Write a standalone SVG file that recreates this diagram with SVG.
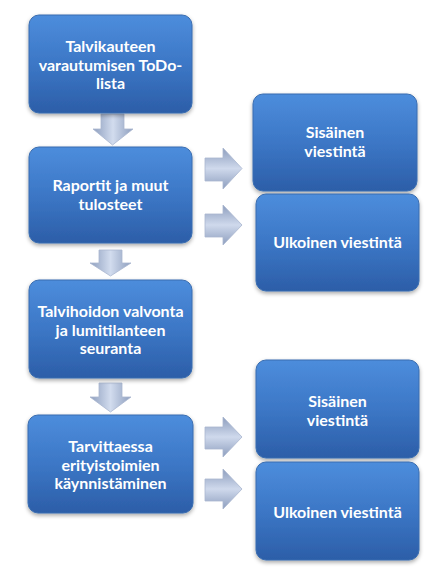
<svg xmlns="http://www.w3.org/2000/svg" width="435" height="570" viewBox="0 0 435 570">
<defs>
<linearGradient id="boxg" x1="0" y1="0" x2="0" y2="1">
<stop offset="0" stop-color="#4d8ddc"/>
<stop offset="0.5" stop-color="#3c77c6"/>
<stop offset="1" stop-color="#2c5ea8"/>
</linearGradient>
<linearGradient id="arrv" x1="0" y1="0" x2="1" y2="0">
<stop offset="0" stop-color="#8d9ebe"/>
<stop offset="0.5" stop-color="#d2dcee"/>
<stop offset="1" stop-color="#8d9ebe"/>
</linearGradient>
<linearGradient id="arrh" x1="0" y1="0" x2="0" y2="1">
<stop offset="0" stop-color="#8d9ebe"/>
<stop offset="0.5" stop-color="#cfd9ec"/>
<stop offset="1" stop-color="#8d9ebe"/>
</linearGradient>
<filter id="sh" x="-10%" y="-10%" width="120%" height="130%">
<feGaussianBlur in="SourceAlpha" stdDeviation="2"/>
<feOffset dx="0" dy="2" result="b"/>
<feComponentTransfer><feFuncA type="linear" slope="0.35"/></feComponentTransfer>
<feMerge><feMergeNode/><feMergeNode in="SourceGraphic"/></feMerge>
</filter>
</defs>
<style>
.box{fill:url(#boxg);stroke:#3a6db0;stroke-width:1;filter:url(#sh)}
.t{font-family:Lato,"Open Sans","Liberation Sans",sans-serif;font-weight:bold;font-size:16px;fill:#ffffff;text-anchor:middle}
.av{fill:url(#arrv);stroke:#a9b6cf;stroke-width:0.8}
.ah{fill:url(#arrh);stroke:#a9b6cf;stroke-width:0.8}
</style>
<g id="connectors">
<path class="av" d="M101,114 H124 V129 H133 L112.5,145 L93,129 H101 Z"/>
<path class="av" d="M99,250 H122 V263 H131 L110.5,276 L90,263 H99 Z"/>
<path class="av" d="M99,383 H122 V397 H131 L110.5,412 L90,397 H99 Z"/>
<path class="ah" d="M205,158 H223 V148 L242,168.5 L223,189 V181 H205 Z"/>
<path class="ah" d="M205,214 H223 V205 L242,225 L223,245 V237 H205 Z"/>
<path class="ah" d="M205,427 H223 V417 L242,437 L223,457 V449 H205 Z"/>
<path class="ah" d="M205,479 H223 V469 L242,489 L223,509 V501 H205 Z"/>
</g>
<g id="n1"><rect class="box" x="29" y="15" width="163" height="98" rx="10"/>
<text class="t" x="110.5" y="52">Talvikauteen</text>
<text class="t" x="110.5" y="70.5">varautumisen ToDo-</text>
<text class="t" x="110.5" y="89">lista</text></g>
<g id="n2"><rect class="box" x="29" y="147" width="163" height="96" rx="10"/>
<text class="t" x="110.5" y="191">Raportit ja muut</text>
<text class="t" x="110.5" y="209.5">tulosteet</text></g>
<g id="n3"><rect class="box" x="29" y="280" width="163" height="98" rx="10"/>
<text class="t" x="110.5" y="317">Talvihoidon valvonta</text>
<text class="t" x="110.5" y="335.5">ja lumitilanteen</text>
<text class="t" x="110.5" y="354">seuranta</text></g>
<g id="n4"><rect class="box" x="28" y="415" width="165" height="98" rx="10"/>
<text class="t" x="110.5" y="452">Tarvittaessa</text>
<text class="t" x="110.5" y="470.5">erityistoimien</text>
<text class="t" x="110.5" y="489">käynnistäminen</text></g>
<g id="n5"><rect class="box" x="253" y="94" width="164" height="97" rx="10"/>
<text class="t" x="335" y="138">Sisäinen</text>
<text class="t" x="335" y="156.5">viestintä</text></g>
<g id="n6"><rect class="box" x="256" y="194" width="163" height="97" rx="10"/>
<text class="t" x="337.5" y="248">Ulkoinen viestintä</text></g>
<g id="n7"><rect class="box" x="256" y="360" width="163" height="98" rx="10"/>
<text class="t" x="337.5" y="407">Sisäinen</text>
<text class="t" x="337.5" y="425.5">viestintä</text></g>
<g id="n8"><rect class="box" x="256" y="462" width="163" height="98" rx="10"/>
<text class="t" x="337.5" y="518">Ulkoinen viestintä</text></g>
</svg>
